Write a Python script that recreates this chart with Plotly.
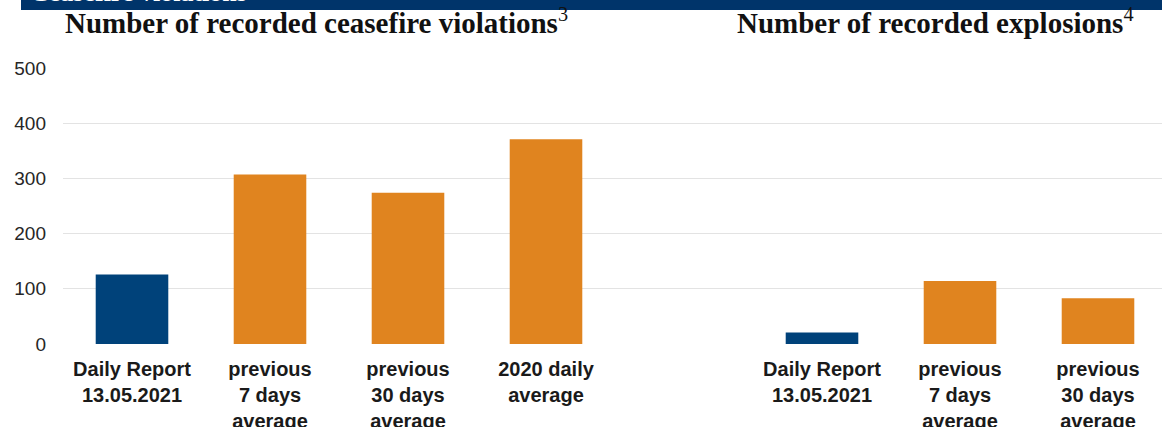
import plotly.graph_objects as go

# ---- data ----
cf_positions = [0, 1, 2, 3]
cf_labels = ["Daily Report<br>13.05.2021", "previous<br>7 days<br>average",
             "previous<br>30 days<br>average", "2020 daily<br>average"]
cf_values = [126, 307, 274, 371]
cf_colors = ["#00427a", "#e0841f", "#e0841f", "#e0841f"]

ex_positions = [5, 6, 7]
ex_labels = ["Daily Report<br>13.05.2021", "previous<br>7 days<br>average",
             "previous<br>30 days<br>average"]
ex_values = [21, 114, 83]
ex_colors = ["#00427a", "#e0841f", "#e0841f"]

y_ticks = [0, 100, 200, 300, 400, 500]

W, H = 1162, 427
ML, MR, MT, MB = 63, 0, 68, 83
PW, PH = W - ML - MR, H - MT - MB

def px_x(p):
    return (p - ML) / PW

def px_y(p):
    return (H - MB - p) / PH

fig = go.Figure()
fig.add_trace(go.Bar(x=cf_positions, y=cf_values, marker=dict(color=cf_colors, line=dict(width=0)),
                     width=0.526, showlegend=False, hoverinfo="y"))
fig.add_trace(go.Bar(x=ex_positions, y=ex_values, marker=dict(color=ex_colors, line=dict(width=0)),
                     width=0.526, showlegend=False, hoverinfo="y"))

fig.update_layout(
    width=W, height=H,
    margin=dict(l=ML, r=MR, t=MT, b=MB, pad=0, autoexpand=False),
    plot_bgcolor="white", paper_bgcolor="white",
    font=dict(family="Liberation Sans, Arial, sans-serif", color="#262626"),
    xaxis=dict(
        range=[-0.5, -0.5 + PW / 138.0],
        tickmode="array",
        tickvals=cf_positions + ex_positions,
        ticktext=["<b>" + t + "</b>" for t in cf_labels + ex_labels],
        tickfont=dict(size=20, family="Liberation Sans, Arial, sans-serif", color="#1a1a1a"),
        showgrid=False, zeroline=False, showline=False, ticks="",
        ticklabelstandoff=11, automargin=False,
    ),
    yaxis=dict(
        range=[0, 500],
        tickmode="array",
        tickvals=y_ticks,
        tickfont=dict(size=19, color="#262626"),
        showgrid=True, gridcolor="#e3e3e3", gridwidth=1,
        zeroline=False, showline=False, ticks="",
        ticklabelstandoff=16, automargin=False,
    ),
    bargap=0.4,
)

# banner
fig.add_shape(type="rect", xref="paper", yref="paper",
              x0=px_x(21), x1=1.0, y0=px_y(10), y1=px_y(-20),
              fillcolor="#00346a", line=dict(width=0), layer="above")
fig.add_annotation(xref="paper", yref="paper", x=px_x(28), y=px_y(-7),
                   xanchor="left", yanchor="middle", showarrow=False,
                   text="<b>Ceasefire violations</b>",
                   font=dict(family="Liberation Serif, Times New Roman, serif", size=26, color="white"))

# panel titles
fig.add_annotation(xref="paper", yref="paper", x=px_x(316), y=px_y(21),
                   xanchor="center", yanchor="middle", showarrow=False,
                   text="<b>Number of recorded ceasefire violations</b><sup>3</sup>",
                   font=dict(family="Liberation Serif, Times New Roman, serif", size=29, color="#111111"))
fig.add_annotation(xref="paper", yref="paper", x=px_x(935), y=px_y(21),
                   xanchor="center", yanchor="middle", showarrow=False,
                   text="<b>Number of recorded explosions</b><sup>4</sup>",
                   font=dict(family="Liberation Serif, Times New Roman, serif", size=29, color="#111111"))

fig.write_html("out.html", config={"displayModeBar": False},
               post_script="document.body.style.margin='0';")
